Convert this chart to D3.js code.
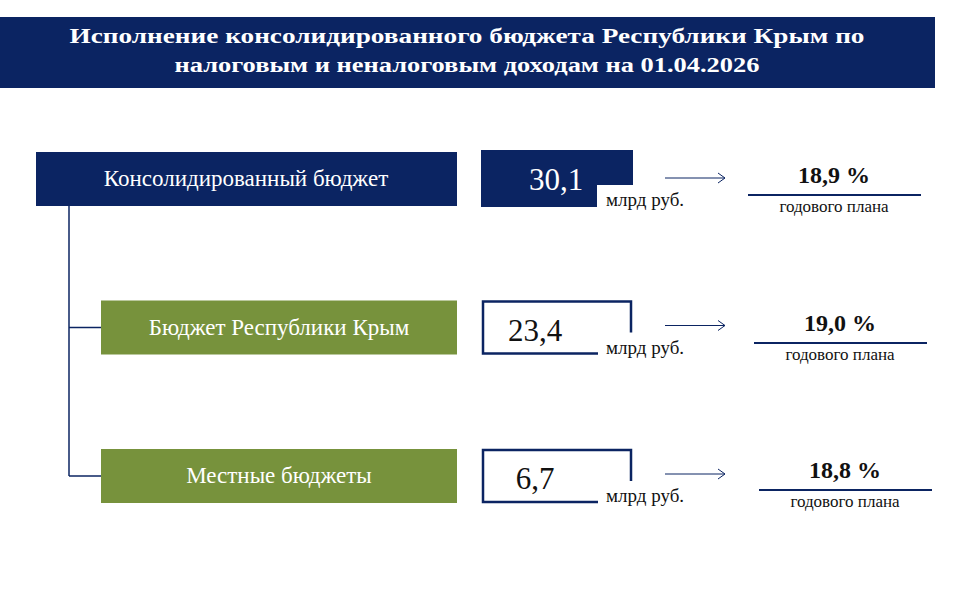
<!DOCTYPE html>
<html><head><meta charset="utf-8">
<script src="https://cdn.jsdelivr.net/npm/d3@7"></script>
<style>body{margin:0;background:#fff}</style></head>
<body><svg id="c" width="960" height="600"></svg>
<script>
const titleLines = ["Исполнение  консолидированного  бюджета  Республики Крым  по", "налоговым и неналоговым  доходам на 01.04.2026"];
const categories = ["Консолидированный бюджет", "Бюджет Республики Крым", "Местные бюджеты"];
const values = [30.1, 23.4, 6.7];
const percents = [18.9, 19.0, 18.8];
const unit = "млрд руб.";
const planLabel = "годового  плана";

const navy = "#0b2462", olive = "#77923c";
const fmt = v => v.toFixed(1).replace(".", ",");
const svg = d3.select("#c");
const serif = "'Liberation Serif','DejaVu Serif',serif";

svg.append("rect").attr("x",0).attr("y",17).attr("width",935).attr("height",71).attr("fill",navy);
svg.selectAll(".t").data(titleLines).join("text").attr("x",467).attr("y",(d,i)=>43+i*29)
  .attr("text-anchor","middle").attr("fill","#fff").attr("font-family",serif).attr("font-weight","bold")
  .attr("font-size",20).attr("textLength",(d,i)=>i?585:795).attr("lengthAdjust","spacingAndGlyphs").text(d=>d);

const y = d3.scaleLinear().domain([0,2]).range([152,449]);
const idx = d3.range(categories.length);

// connector
svg.append("line").attr("x1",69).attr("x2",69).attr("y1",y(0)+54).attr("y2",y(2)+27).attr("stroke",navy).attr("stroke-width",1.5);
svg.selectAll(".br").data(idx.slice(1)).join("line").attr("x1",69).attr("x2",101)
  .attr("y1",i=>y(i)+27).attr("y2",i=>y(i)+27).attr("stroke",navy).attr("stroke-width",1.5);

// category boxes
svg.selectAll(".cb").data(idx).join("rect").attr("x",i=>i?101:36).attr("y",i=>y(i))
  .attr("width",i=>i?356:421).attr("height",54).attr("fill",i=>i?olive:navy);
svg.selectAll(".ct").data(idx).join("text").attr("x",i=>i?279:246).attr("y",i=>y(i)+34)
  .attr("text-anchor","middle").attr("fill","#fff").attr("font-family",serif).attr("font-size",23)
  .text(i=>categories[i]);

// value boxes
idx.forEach(i=>{
  const top=y(i)-(i?0:2), h=i?54:57;
  if(i===0){
    svg.append("path").attr("d",`M481,${top}H633V${top+35}H597V${top+h}H481Z`).attr("fill",navy);
  } else {
    svg.append("path").attr("d",`M631,${top+32}V${top+1}H483V${top+h-1}H598`).attr("fill","none").attr("stroke",navy).attr("stroke-width",2.5);
  }
  svg.append("text").attr("x",i?535:556).attr("y",top+40).attr("text-anchor","middle")
    .attr("fill",i?"#111":"#fff").attr("font-family",serif).attr("font-size",31).text(fmt(values[i]));
  svg.append("text").attr("x",606).attr("y",top+h-1).attr("font-family",serif).attr("font-size",19).attr("fill","#111").text(unit);
  const ay=top+28-(i?3:0);
  svg.append("line").attr("x1",665).attr("x2",725).attr("y1",ay).attr("y2",ay).attr("stroke",navy).attr("stroke-width",1);
  svg.append("path").attr("d",`M718,${ay-5}L725,${ay}L718,${ay+5}`).attr("fill","none").attr("stroke",navy);
  const cx=[834,840,845][i], py=[183,331,478][i];
  svg.append("text").attr("x",cx).attr("y",py).attr("text-anchor","middle").attr("font-family",serif)
    .attr("font-weight","bold").attr("font-size",24).attr("fill","#111").text(fmt(percents[i])+" %");
  svg.append("line").attr("x1",cx-86).attr("x2",cx+87).attr("y1",py+12).attr("y2",py+12).attr("stroke",navy).attr("stroke-width",2);
  svg.append("text").attr("x",cx).attr("y",py+29).attr("text-anchor","middle").attr("font-family",serif)
    .attr("font-size",17).attr("fill","#111").text(planLabel);
});
</script></body></html>
